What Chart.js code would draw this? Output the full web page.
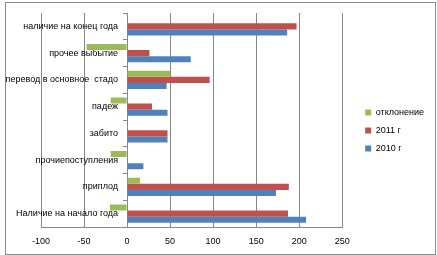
<!DOCTYPE html>
<html>
<head>
<meta charset="utf-8">
<script src="https://cdn.jsdelivr.net/npm/chart.js@4"></script>
<style>
  body { margin: 0; background: #fff; }
  #wrap { position: relative; width: 437px; height: 255px; }
  #frame { position: absolute; left: 5px; top: 2px; width: 429px; height: 251px; border: 1px solid #8a8a8a; pointer-events: none; }
</style>
</head>
<body>
<div id="wrap">
  <canvas id="grafik"></canvas>
  <div id="frame"></div>
</div>
<script>
var kategorii = ['наличие на конец года', 'прочее выбытие', 'перевод в основное  стадо', 'падеж', 'забито', 'прочиепоступления', 'приплод', 'Наличие на начало года'];
var otklonenie = [0, -47, 50, -19, 0, -19, 15, -20];
var god2011 = [197, 26, 96, 29, 47, 0, 188, 187];
var god2010 = [186, 74, 46, 47, 47, 19, 173, 208];
var tiki = [-100, -50, 0, 50, 100, 150, 200, 250];

var shrift = { family: 'Liberation Sans', size: 9 };
var seryi = '#868686';

var ctx = document.getElementById('grafik').getContext('2d');
var ch = new Chart(ctx, {
    type: 'bar',
    data: {
        labels: kategorii,
        datasets: [
            { label: 'отклонение', data: otklonenie, backgroundColor: '#9BBB59' },
            { label: '2011 г', data: god2011, backgroundColor: '#C0504D' },
            { label: '2010 г', data: god2010, backgroundColor: '#4F81BD' }
        ]
    },
    options: {
        indexAxis: 'y',
        responsive: true,
        maintainAspectRatio: false,
        animation: false,
        datasets: { bar: { barPercentage: 1, categoryPercentage: 0.673 } },
        layout: { padding: { left: 41, top: 13, right: 3, bottom: 7 } },
        scales: {
            x: {
                min: tiki[0],
                max: tiki[tiki.length - 1],
                afterBuildTicks: function (s) { s.ticks = tiki.map(function (v) { return { value: v }; }); },
                afterFit: function (s) { s.height = 21; },
                grid: { color: seryi, drawTicks: false, tickLength: 0 },
                border: { color: seryi },
                ticks: { color: '#000', font: shrift, padding: 9, maxRotation: 0 }
            },
            y: {
                position: { x: 0 },
                grid: { drawOnChartArea: false, tickLength: 4, color: seryi },
                border: { color: seryi },
                ticks: {
                    color: '#000', font: shrift, autoSkip: false,
                    callback: function (v) { return this.getLabelForValue(v) + '\u2002\u2002'; }
                }
            },
            pusto: {
                axis: 'y',
                type: 'category',
                position: 'right',
                display: false,
                afterFit: function (s) { s.width = 14; }
            }
        },
        plugins: {
            tooltip: { enabled: false },
            legend: {
                position: 'right',
                labels: { boxWidth: 6, boxHeight: 6, padding: 9, color: '#000', font: shrift }
            }
        }
    }
});
</script>
</body>
</html>
